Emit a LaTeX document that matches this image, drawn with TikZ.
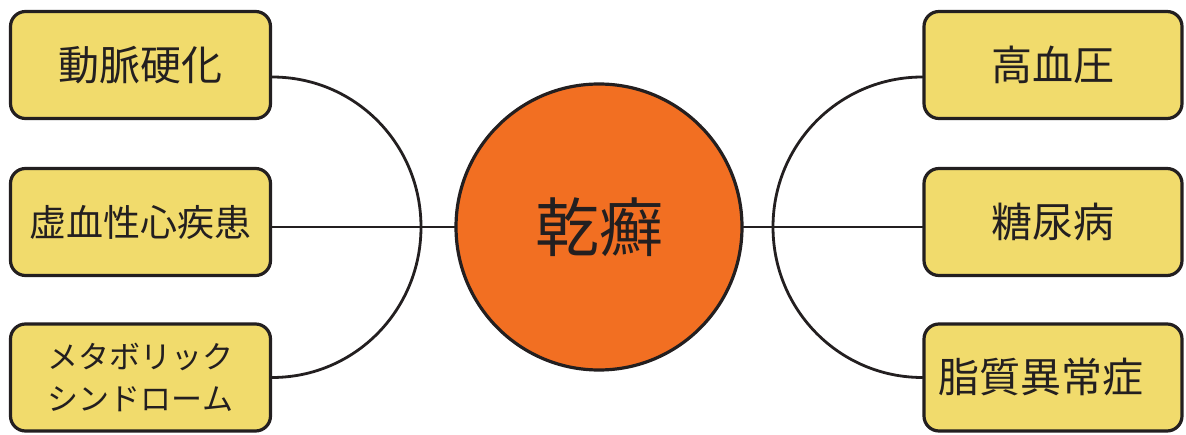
\documentclass[tikz,border=0pt]{standalone}
\usepackage{fontspec}
\newfontfamily\jp{Noto Sans CJK JP}
\definecolor{boxfill}{HTML}{F1DB6C}
\definecolor{hubfill}{HTML}{F26F22}
\definecolor{ink}{HTML}{231F20}
\begin{document}
\begin{tikzpicture}[x=1pt,y=-1pt,
  box/.style={draw=ink, line width=3.2pt, fill=boxfill, rounded corners=15pt,
    minimum width=260pt, minimum height=107pt, inner sep=0pt,
    font=\jp\fontsize{37}{42}\selectfont, text=ink, align=center},
  big/.style={font=\jp\fontsize{41}{42}\selectfont},
  kata/.style={font=\jp\fontsize{31}{42}\selectfont},
  hub/.style={draw=ink, line width=3.2pt, fill=hubfill, circle, minimum size=286pt,
    inner sep=0pt, font=\jp\fontsize{64}{70}\selectfont, text=ink},
  link/.style={draw=ink, line width=2.8pt, line cap=round}]
\useasboundingbox (0,0) rectangle (1186,435);
\node[hub] (c) at (599,227) {乾癬};
\node[box, big] (b1) at (140.5,65) {動脈硬化};
\node[box] (b2) at (140.5,222) {虚血性心疾患};
\node[box, kata] (b3) at (140.5,377.5) {メタボリック\\シンドローム};
\node[box, big, minimum width=258pt] (b4) at (1053,65) {高血圧};
\node[box, big, minimum width=258pt] (b5) at (1053,222) {糖尿病};
\node[box, minimum width=258pt] (b6) at (1053,377.5) {};
\node[font=\jp\fontsize{41}{42}\selectfont, text=ink] (t6) at (1041,377) {脂質異常症};
\coordinate (jl) at (421,227);
\coordinate (jr) at (773,227);
\coordinate (b1e) at ([yshift=-12pt]b1.east);
\coordinate (b3e) at (b3.east);
\coordinate (b4w) at ([yshift=-12pt]b4.west);
\coordinate (b6w) at (b6.west);
\draw[link] (b1e) .. controls +(83,0) and +(0,-83) .. (jl) .. controls +(0,83) and +(83,0) .. (b3e);
\draw[link] (b4w) .. controls +(-83,0) and +(0,-83) .. (jr) .. controls +(0,83) and +(-83,0) .. (b6w);
\draw[link] (c.west) -- (c.west -| b2.east);
\draw[link] (c.east) -- (c.east -| b5.west);
\end{tikzpicture}
\end{document}
